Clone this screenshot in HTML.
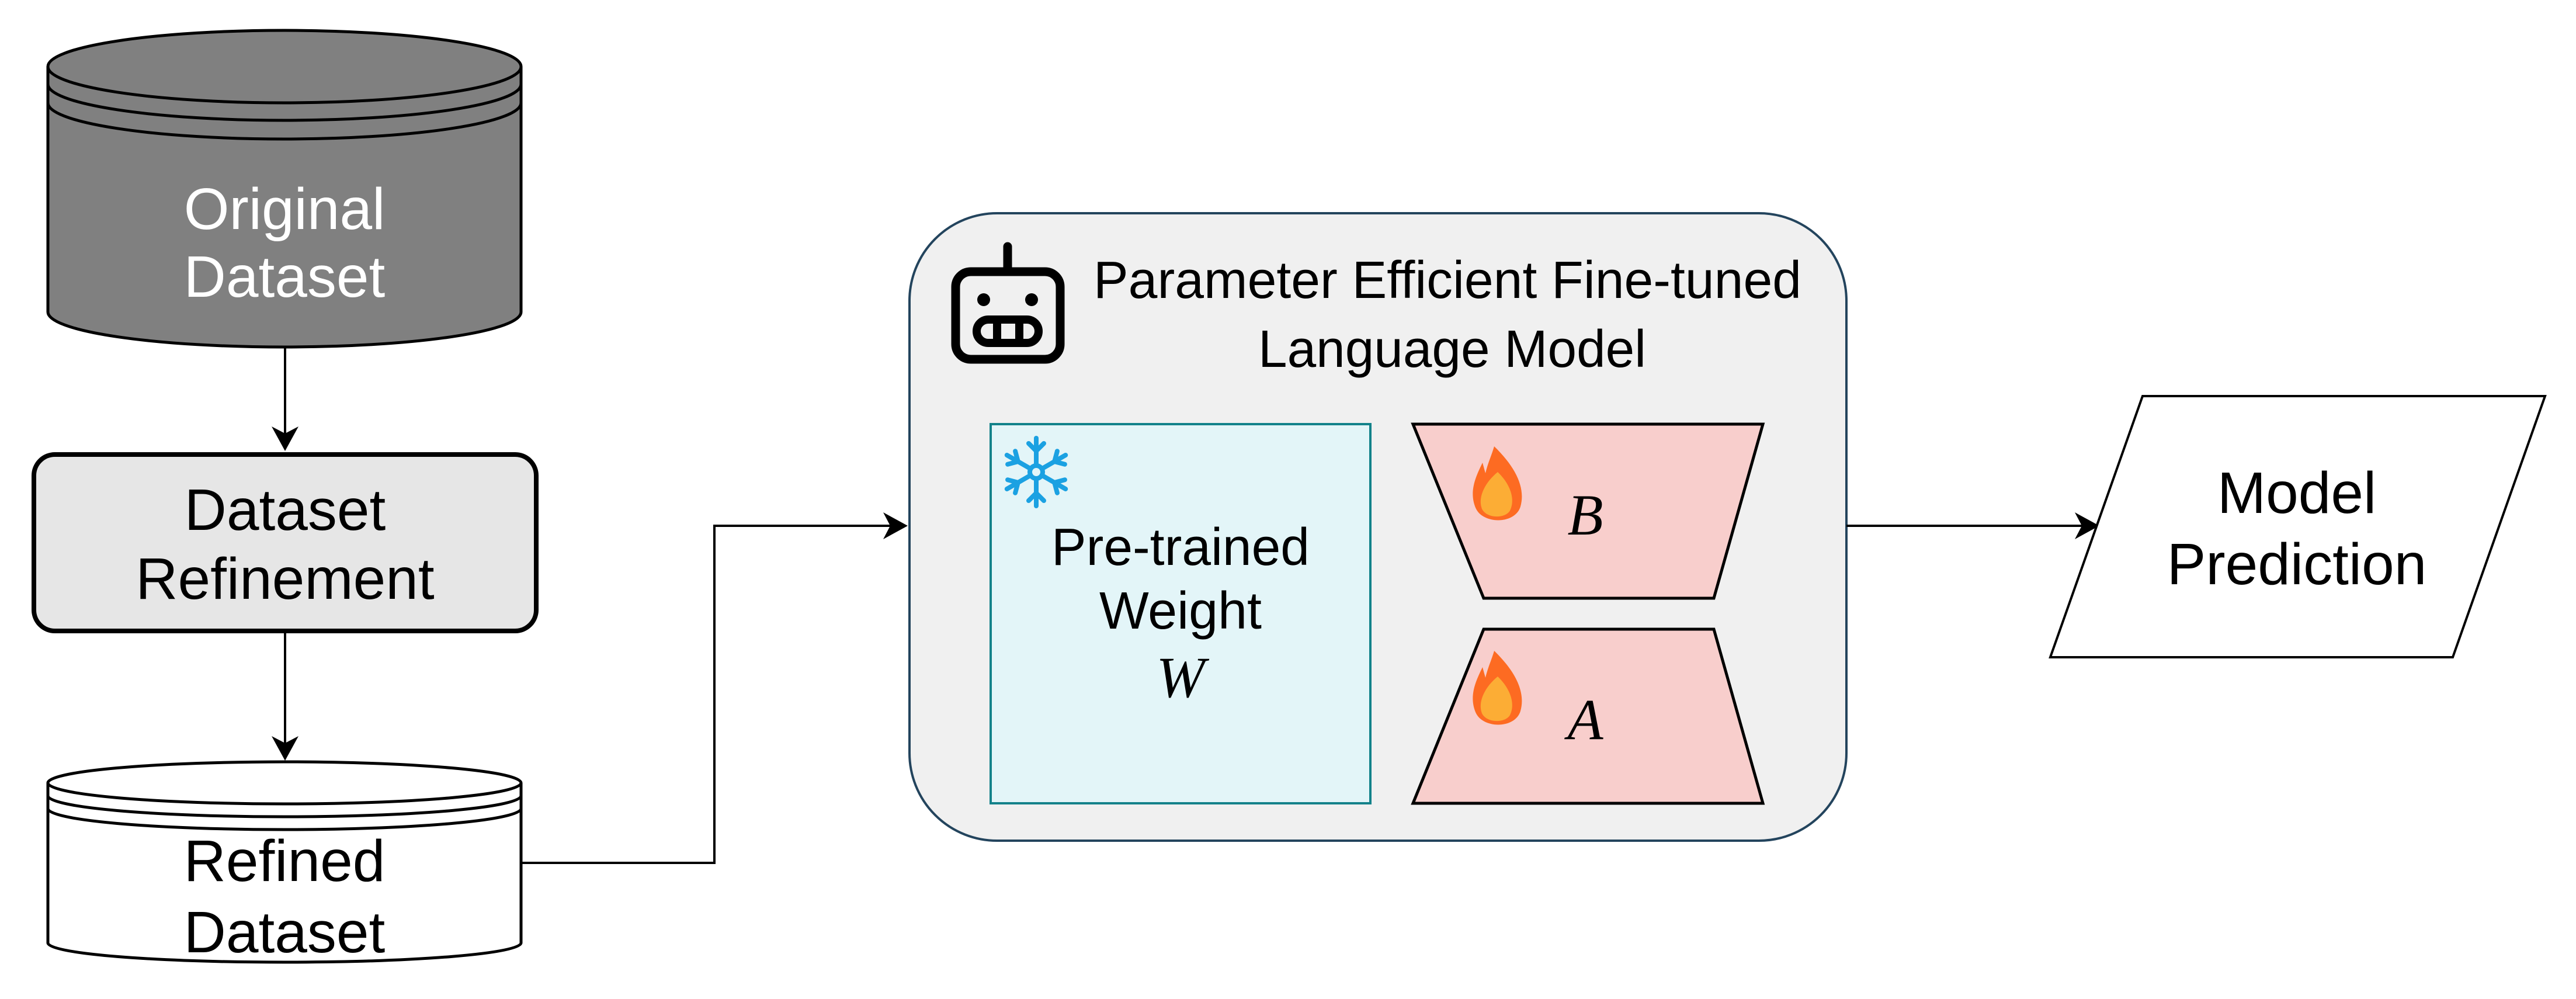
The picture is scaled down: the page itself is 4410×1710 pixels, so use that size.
<!DOCTYPE html>
<html><head><meta charset="utf-8"><style>html,body{margin:0;padding:0;background:#fff}svg{display:block}</style></head><body>
<svg width="4410" height="1710" viewBox="0 0 4410 1710" xmlns="http://www.w3.org/2000/svg" font-family="Liberation Sans, Arial, sans-serif">
<!-- Original Dataset cylinder -->
<path d="M82,114 L82,534 A405,60 0 0 0 892,534 L892,114" fill="#808080" stroke="#000" stroke-width="5"/>
<ellipse cx="487" cy="114" rx="405" ry="62" fill="#808080" stroke="#000" stroke-width="5"/>
<path d="M82,144 A405,62 0 0 0 892,144" fill="none" stroke="#000" stroke-width="5"/>
<path d="M82,176 A405,62 0 0 0 892,176" fill="none" stroke="#000" stroke-width="5"/>
<text x="487" y="392" font-size="100" fill="#fff" text-anchor="middle">Original</text>
<text x="487" y="508" font-size="100" fill="#fff" text-anchor="middle">Dataset</text>
<line x1="488" y1="596" x2="488" y2="760" stroke="#000" stroke-width="4"/>
<path d="M465,730 L488,772 L511,730 L488,742 Z" fill="#000"/>
<rect x="58" y="778" width="860" height="302" rx="36" fill="#e6e6e6" stroke="#000" stroke-width="8"/>
<text x="488" y="907" font-size="100" text-anchor="middle">Dataset</text>
<text x="488" y="1025" font-size="100" text-anchor="middle">Refinement</text>
<line x1="488" y1="1084" x2="488" y2="1290" stroke="#000" stroke-width="4"/>
<path d="M465,1260 L488,1302 L511,1260 L488,1272 Z" fill="#000"/>
<path d="M82,1340 L82,1614 A405,33 0 0 0 892,1614 L892,1340" fill="#fff" stroke="#000" stroke-width="5"/>
<ellipse cx="487" cy="1340" rx="405" ry="36" fill="#fff" stroke="#000" stroke-width="5"/>
<path d="M82,1362 A405,36 0 0 0 892,1362" fill="none" stroke="#000" stroke-width="5"/>
<path d="M82,1384 A405,36 0 0 0 892,1384" fill="none" stroke="#000" stroke-width="5"/>
<text x="487" y="1508" font-size="100" text-anchor="middle">Refined</text>
<text x="487" y="1630" font-size="100" text-anchor="middle">Dataset</text>
<polyline points="892,1477 1223,1477 1223,900 1540,900" fill="none" stroke="#000" stroke-width="4"/>
<path d="M1512,877 L1554,900 L1512,923 L1524,900 Z" fill="#000"/>
<rect x="1557" y="365" width="1604" height="1074" rx="150" fill="#f0f0f0" stroke="#23445d" stroke-width="4"/>
<line x1="1725" y1="422" x2="1725" y2="460" stroke="#000" stroke-width="15" stroke-linecap="round"/>
<rect x="1636" y="465" width="179" height="150" rx="26" fill="none" stroke="#000" stroke-width="15"/>
<circle cx="1684" cy="513" r="11" fill="#000"/>
<circle cx="1766" cy="513" r="11" fill="#000"/>
<rect x="1672" y="547" width="106" height="40" rx="20" fill="none" stroke="#000" stroke-width="14"/>
<line x1="1707" y1="547" x2="1707" y2="587" stroke="#000" stroke-width="14"/>
<line x1="1745" y1="547" x2="1745" y2="587" stroke="#000" stroke-width="14"/>
<text x="2478" y="510" font-size="90" text-anchor="middle" textLength="1212" lengthAdjust="spacingAndGlyphs">Parameter Efficient Fine-tuned</text>
<text x="2486" y="628" font-size="90" text-anchor="middle" textLength="664" lengthAdjust="spacingAndGlyphs">Language Model</text>
<rect x="1696" y="726" width="650" height="649" fill="#e3f5f8" stroke="#13828a" stroke-width="4"/>
<g stroke="#1ba1e2" stroke-width="8" fill="none" stroke-linecap="round">
<circle cx="1774" cy="808" r="11"/>
<g id="arm"><line x1="1774" y1="797" x2="1774" y2="750"/><polyline points="1761,759 1774,772 1787,759"/></g>
<use href="#arm" transform="rotate(60 1774 808)"/>
<use href="#arm" transform="rotate(120 1774 808)"/>
<use href="#arm" transform="rotate(180 1774 808)"/>
<use href="#arm" transform="rotate(240 1774 808)"/>
<use href="#arm" transform="rotate(300 1774 808)"/>
</g>
<text x="2021" y="967" font-size="90" text-anchor="middle" textLength="442" lengthAdjust="spacingAndGlyphs">Pre-trained</text>
<text x="2021" y="1076" font-size="90" text-anchor="middle" textLength="278" lengthAdjust="spacingAndGlyphs">Weight</text>
<text x="2021" y="1193" font-size="100" font-family="Liberation Serif, serif" font-style="italic" text-anchor="middle">W</text>
<polygon points="2419,726 3018,726 2934,1024 2540,1024" fill="#f8cecc" stroke="#000" stroke-width="5"/>
<polygon points="2540,1077 2934,1077 3018,1375 2419,1375" fill="#f8cecc" stroke="#000" stroke-width="5"/>
<g id="flame">
<path d="M2558,764 C2595,800 2612,835 2603,867 C2594,898 2538,898 2526,869 C2514,840 2528,813 2538,792 L2543,810 C2547,793 2554,778 2558,764 Z" fill="#fd6b22"/>
<path d="M2564,808 C2587,830 2594,856 2585,874 C2577,888 2545,888 2537,871 C2529,850 2544,824 2564,808 Z" fill="#fcad35"/>
</g>
<use href="#flame" transform="translate(0,350)"/>
<text x="2714" y="915" font-size="100" font-family="Liberation Serif, serif" font-style="italic" text-anchor="middle">B</text>
<text x="2714" y="1265" font-size="100" font-family="Liberation Serif, serif" font-style="italic" text-anchor="middle">A</text>
<line x1="3161" y1="900" x2="3580" y2="900" stroke="#000" stroke-width="4"/>
<path d="M3552,877 L3594,900 L3552,923 L3564,900 Z" fill="#000"/>
<polygon points="3668,678 4357,678 4199,1125 3510,1125" fill="#fff" stroke="#000" stroke-width="4"/>
<text x="3932" y="878" font-size="100" text-anchor="middle">Model</text>
<text x="3932" y="1000" font-size="100" text-anchor="middle">Prediction</text>
</svg>
</body></html>
